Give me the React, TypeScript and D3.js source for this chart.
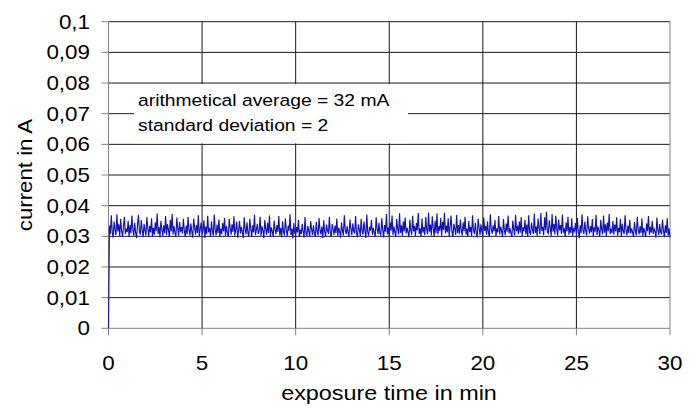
import React from "react";
import * as d3 from "d3";

// exposure time axis (min) and current axis (A)
const xTicks = [0, 5, 10, 15, 20, 25, 30];
const yTicks = [0, 0.01, 0.02, 0.03, 0.04, 0.05, 0.06, 0.07, 0.08, 0.09, 0.1];
const sampleIntervalMin = 0.05; // one reading every 3 s

const currentMilliA = [
  0, 33.5, 30.8, 36.9, 31.2, 29.6, 34.8, 32.1, 30.4, 37.2, 31.6, 33.9, 30.1, 35.6, 31.8, 29.9, 33.2, 36.4, 30.7, 32.5,
  31.4, 35.1, 29.8, 33.7, 30.9, 36.8, 32.3, 30.2, 34.4, 31.1, 29.5, 33.8, 37.0, 31.5, 30.6, 35.3, 32.0, 29.7, 34.1, 31.9,
  30.3, 36.2, 32.7, 30.0, 33.4, 31.3, 35.9, 29.9, 32.8, 30.5, 34.6, 31.7, 37.4, 30.8, 33.1, 29.6, 35.0, 32.4, 30.1, 33.6,
  31.0, 36.6, 30.4, 34.0, 32.2, 29.8, 35.4, 31.6, 37.3, 30.6, 33.3, 31.2, 29.7, 36.1, 32.6, 30.2, 34.7, 31.4, 33.0, 30.9,
  35.7, 31.8, 29.9, 33.5, 30.7, 36.3, 32.0, 30.3, 34.2, 31.5, 29.6, 35.8, 32.9, 30.5, 33.7, 31.1, 36.9, 30.0, 32.4, 34.5,
  30.6, 31.9, 35.2, 29.5, 33.2, 30.8, 36.7, 31.3, 32.7, 29.8, 34.9, 31.7, 30.2, 37.1, 32.1, 30.4, 33.8, 31.0, 35.5, 29.9,
  32.5, 30.7, 34.3, 31.6, 36.0, 30.1, 33.4, 31.2, 29.7, 35.6, 32.8, 30.5, 33.9, 31.4, 36.5, 30.3, 32.2, 34.8, 29.6, 31.8,
  35.0, 30.9, 33.1, 31.5, 29.4, 36.2, 32.3, 30.6, 34.6, 31.0, 30.0, 35.7, 32.6, 29.8, 33.6, 31.3, 37.0, 30.4, 32.0, 34.1,
  30.8, 31.7, 36.4, 30.2, 33.3, 31.9, 29.5, 35.3, 32.4, 30.5, 34.4, 31.1, 36.8, 30.0, 32.9, 31.6, 29.9, 35.1, 32.2, 30.7,
  33.7, 31.4, 36.6, 30.3, 32.7, 29.7, 34.9, 31.2, 30.6, 35.9, 32.1, 30.1, 33.5, 31.8, 37.2, 30.4, 32.5, 29.3, 34.3, 31.0,
  30.5, 33.0, 31.3, 35.4, 29.8, 32.2, 30.7, 34.1, 31.5, 29.6, 36.3, 31.0, 30.2, 33.4, 31.7, 29.9, 35.0, 32.3, 30.4, 33.6,
  31.1, 29.7, 34.7, 31.6, 30.3, 36.0, 32.0, 30.6, 33.2, 29.5, 35.2, 31.4, 30.0, 33.8, 31.9, 30.8, 36.4, 31.2, 29.8, 34.0,
  32.4, 30.5, 33.5, 31.0, 35.8, 30.2, 32.8, 31.5, 29.6, 34.5, 31.8, 30.3, 36.9, 32.1, 30.7, 33.3, 31.3, 29.9, 35.5, 32.6,
  30.4, 34.2, 31.7, 30.9, 36.6, 31.1, 29.7, 33.9, 32.3, 30.1, 35.7, 31.6, 30.6, 34.8, 32.0, 29.5, 37.1, 31.4, 30.2, 33.1,
  31.9, 35.3, 30.5, 32.7, 31.2, 29.8, 36.2, 32.5, 30.8, 34.4, 31.0, 30.3, 35.9, 32.2, 29.6, 33.7, 31.5, 37.3, 30.7, 32.9,
  30.0, 34.6, 31.8, 36.8, 30.4, 33.2, 31.3, 29.9, 35.6, 32.4, 30.6, 37.5, 31.1, 33.6, 30.2, 34.9, 31.7, 36.1, 30.9, 32.8,
  31.4, 29.7, 35.4, 32.0, 30.5, 36.7, 31.6, 33.4, 30.1, 34.3, 31.9, 37.6, 30.8, 32.6, 29.8, 35.8, 31.2, 33.0, 30.4, 36.3,
  32.2, 30.7, 37.8, 31.5, 33.8, 30.3, 36.5, 32.7, 29.9, 35.1, 31.0, 37.4, 30.6, 33.3, 31.8, 36.0, 30.2, 34.7, 32.1, 37.7,
  30.9, 33.5, 31.3, 35.9, 30.0, 32.9, 36.8, 31.6, 29.7, 34.1, 32.4, 30.5, 37.0, 31.1, 33.7, 30.8, 35.5, 31.9, 30.3, 34.6,
  31.7, 36.4, 30.6, 32.5, 29.8, 35.0, 31.4, 33.1, 30.1, 36.9, 32.0, 30.7, 34.4, 31.2, 29.6, 35.7, 32.8, 30.4, 33.9, 31.5,
  30.2, 36.1, 31.8, 33.4, 30.5, 34.9, 31.0, 29.9, 37.2, 32.3, 30.8, 33.6, 31.6, 35.3, 30.0, 32.6, 31.3, 36.6, 30.6, 33.2,
  31.9, 29.7, 35.6, 32.1, 30.4, 34.2, 31.5, 36.8, 30.9, 32.7, 31.1, 29.8, 35.1, 32.4, 30.3, 37.0, 31.7, 33.5, 30.7, 34.8,
  31.2, 36.3, 30.1, 32.9, 31.6, 35.4, 30.6, 33.8, 29.9, 36.9, 31.4, 30.5, 34.5, 32.2, 30.8, 37.4, 31.0, 33.3, 30.2, 35.8,
  32.5, 30.7, 37.6, 31.8, 33.1, 30.4, 36.2, 32.0, 38.0, 31.3, 30.9, 35.2, 32.8, 30.1, 37.3, 31.5, 34.0, 30.6, 36.7, 32.3,
  30.3, 35.5, 31.9, 33.7, 30.8, 37.1, 31.2, 32.6, 29.9, 34.6, 31.6, 36.4, 30.5, 33.0, 31.1, 35.9, 30.2, 32.4, 31.7, 34.3,
  30.6, 36.0, 31.4, 29.4, 33.6, 31.0, 37.2, 32.1, 30.7, 34.8, 31.8, 30.3, 36.5, 32.7, 30.9, 33.4, 31.3, 35.6, 30.0, 32.9,
  31.5, 37.0, 30.4, 33.2, 31.9, 29.8, 35.3, 32.2, 30.6, 36.8, 31.2, 33.9, 30.1, 34.5, 31.7, 37.3, 30.8, 32.5, 31.0, 35.0,
  30.5, 33.8, 31.6, 36.2, 30.2, 32.8, 31.3, 35.7, 29.9, 34.1, 31.8, 30.7, 36.9, 32.0, 30.4, 33.5, 31.1, 35.4, 30.9, 32.6,
  31.4, 29.7, 34.7, 31.9, 30.3, 36.4, 32.3, 30.6, 33.3, 31.0, 35.8, 30.1, 32.7, 31.5, 29.8, 34.2, 31.7, 36.6, 30.5, 33.0,
  31.2, 35.1, 30.8, 32.4, 31.6, 29.6, 36.1, 32.1, 30.4, 34.0, 31.3, 30.9, 35.5, 31.8, 29.7, 33.6, 31.1, 35.9, 30.2, 32.5, 29.6,
];

const annotationLines = ["arithmetical average = 32 mA", "standard deviation = 2"];
const xTitle = "exposure time in min";
const yTitle = "current in A";

const W = 699;
const H = 408;
const FONT = "'Liberation Sans', Arial, Helvetica, sans-serif";

const x = d3.scaleLinear().domain([0, 30]).range([108.5, 670]);
const y = d3.scaleLinear().domain([0, 0.1]).range([328.3, 21.7]);
const fmtY = d3.formatLocale({ decimal: ",", thousands: ".", grouping: [3], currency: ["", ""] }).format(".2~f");

type Pt = { t: number; a: number };
const series: Pt[] = currentMilliA.map((v, i) => ({ t: i * sampleIntervalMin, a: v / 1000 }));

const line = d3
  .line<Pt>()
  .x((d) => x(d.t))
  .y((d) => y(d.a));

function SText(props: {
  x: number;
  y: number;
  sx: number;
  size: number;
  anchor: "start" | "middle" | "end";
  rotate?: number;
  dy?: string;
  children: React.ReactNode;
}) {
  const rot = props.rotate ? ` rotate(${props.rotate})` : "";
  return (
    <text
      transform={`translate(${props.x},${props.y})${rot} scale(${props.sx},1)`}
      textAnchor={props.anchor}
      dy={props.dy}
      fontSize={props.size}
      fontFamily={FONT}
      fill="#000"
    >
      {props.children}
    </text>
  );
}

export default function App() {
  const x0 = x(0);
  const x1 = x(30);
  const yTop = y(0.1);
  const yBot = y(0);
  const box = { x0: 134, x1: 408, y0: y(0.08) + 1, y1: y(0.06) - 1 };
  return (
    <svg
      width={W}
      height={H}
      viewBox={`0 0 ${W} ${H}`}
      style={{ position: "absolute", left: 0, top: 0, background: "#fff" }}
    >
      <rect x={0} y={0} width={W} height={H} fill="#fff" />
      {/* horizontal gridlines */}
      {yTicks.map((v) => (
        <line key={"hy" + v} x1={x0} x2={x1} y1={y(v)} y2={y(v)} stroke={v === 0 ? "#808080" : "#1a1a1a"} strokeWidth={1} />
      ))}
      {/* vertical gridlines */}
      {xTicks.map((v) => (
        <line
          key={"vx" + v}
          x1={x(v)}
          x2={x(v)}
          y1={yTop}
          y2={yBot}
          stroke={v === 0 || v === 30 ? "#808080" : "#1a1a1a"}
          strokeWidth={1}
        />
      ))}
      {/* y tick marks */}
      {yTicks.map((v) => (
        <line key={"ty" + v} x1={x0 - 7} x2={x0} y1={y(v)} y2={y(v)} stroke="#808080" strokeWidth={1} />
      ))}
      {/* x tick marks */}
      {xTicks.map((v) => (
        <line key={"tx" + v} x1={x(v)} x2={x(v)} y1={yBot} y2={yBot + 7} stroke="#808080" strokeWidth={1} />
      ))}
      {/* data trace */}
      <path d={line(series) || ""} fill="none" stroke="#1212b4" strokeWidth={1.15} strokeLinejoin="miter" />
      {/* annotation box */}
      <rect x={box.x0} y={box.y0} width={box.x1 - box.x0} height={box.y1 - box.y0} fill="#fff" />
      <SText x={138} y={106} sx={1.17} size={16.5} anchor="start">
        {annotationLines[0]}
      </SText>
      <SText x={138} y={131} sx={1.17} size={16.5} anchor="start">
        {annotationLines[1]}
      </SText>
      {/* y tick labels */}
      {yTicks.map((v) => (
        <SText key={"ly" + v} x={90} y={y(v)} dy="0.35em" sx={1.12} size={20} anchor="end">
          {fmtY(v)}
        </SText>
      ))}
      {/* x tick labels */}
      {xTicks.map((v) => (
        <SText key={"lx" + v} x={x(v)} y={370} sx={1.12} size={20} anchor="middle">
          {String(v)}
        </SText>
      ))}
      <SText x={389} y={400} sx={1.17} size={20} anchor="middle">
        {xTitle}
      </SText>
      <SText x={32} y={175} sx={1.14} size={19.5} anchor="middle" rotate={-90}>
        {yTitle}
      </SText>
    </svg>
  );
}
